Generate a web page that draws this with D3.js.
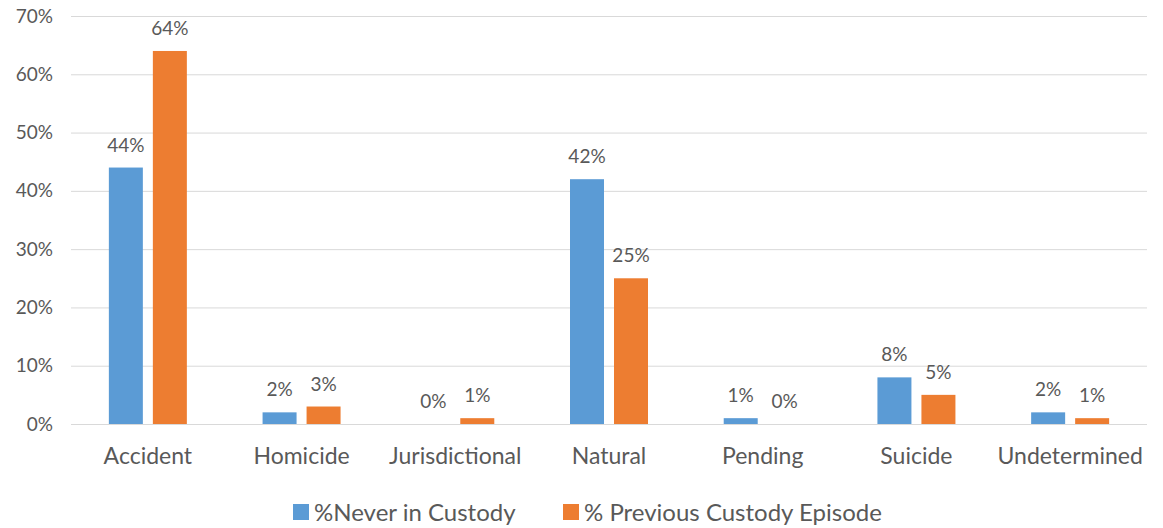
<!DOCTYPE html>
<html>
<head>
<meta charset="utf-8">
<script src="https://cdn.jsdelivr.net/npm/d3@7"></script>
<style>
  html, body { margin: 0; padding: 0; background: #fff; }
  svg { display: block; font-family: Lato, "Open Sans", sans-serif; }
</style>
</head>
<body>
<svg id="chart" width="1163" height="528"></svg>
<script>
const categories = ["Accident", "Homicide", "Jurisdictional", "Natural", "Pending", "Suicide", "Undetermined"];
const seriesNames = ["%Never in Custody", "% Previous Custody Episode"];
const neverInCustody = [44, 2, 0, 42, 1, 8, 2];
const previousCustody = [64, 3, 1, 25, 0, 5, 1];
const yTicks = [0, 10, 20, 30, 40, 50, 60, 70];
const colors = ["#5b9bd5", "#ed7d31"];

(function () {
  const series = [neverInCustody, previousCustody];
  const svg = d3.select("#chart");
  const plotLeft = 71, plotRight = 1147, plotTop = 16, plotBottom = 424;
  const textColor = "#595959";
  const font = "Lato, 'Open Sans', sans-serif";

  const x = d3.scaleBand().domain(categories).range([plotLeft, plotRight]).padding(0);
  const y = d3.scaleLinear().domain([0, 70]).range([plotBottom, plotTop]);
  const barW = 34, gap = 10;
  const inner = d3.scaleBand().domain(d3.range(series.length))
    .range([-(barW + gap / 2), barW + gap / 2]).paddingInner(gap / (barW + gap)).paddingOuter(0);

  // horizontal gridlines
  svg.append("g").selectAll("line").data(yTicks).join("line")
    .attr("x1", plotLeft).attr("x2", plotRight)
    .attr("y1", d => y(d) + 0.5).attr("y2", d => y(d) + 0.5)
    .attr("stroke", "#d9d9d9").attr("stroke-width", 1);

  // y axis tick labels
  const yAxis = d3.axisLeft(y).tickValues(yTicks).tickFormat(d => d + "%").tickSize(0).tickPadding(0);
  const gy = svg.append("g").attr("transform", "translate(53,0)").call(yAxis);
  gy.select(".domain").remove();
  gy.selectAll("text").attr("fill", textColor).style("font-size", "19px").style("font-family", font);

  // bars and value labels
  series.forEach((vals, si) => {
    const g = svg.append("g");
    g.selectAll("rect").data(vals).join("rect")
      .attr("x", (d, i) => x(categories[i]) + x.bandwidth() / 2 + inner(si))
      .attr("width", inner.bandwidth())
      .attr("y", d => y(d))
      .attr("height", d => plotBottom - y(d))
      .attr("fill", colors[si]);
    g.selectAll("text").data(vals).join("text")
      .attr("x", (d, i) => x(categories[i]) + x.bandwidth() / 2 + inner(si) + inner.bandwidth() / 2)
      .attr("y", d => y(d) - 16)
      .attr("text-anchor", "middle")
      .attr("fill", textColor)
      .style("font-size", "19px")
      .text(d => d + "%");
  });

  // category labels
  const xAxis = d3.axisBottom(x).tickSize(0).tickPadding(0);
  const gx = svg.append("g").attr("transform", `translate(0,${plotBottom})`).call(xAxis);
  gx.select(".domain").remove();
  gx.selectAll("text").attr("dy", null).attr("y", 40)
    .attr("fill", textColor).style("font-size", "23px").style("font-family", font);

  // legend
  const legendX = [293, 563];
  const legend = svg.append("g").selectAll("g").data(seriesNames).join("g")
    .attr("transform", (d, i) => `translate(${legendX[i]},504)`);
  legend.append("rect").attr("width", 16).attr("height", 16).attr("fill", (d, i) => colors[i]);
  legend.append("text").attr("x", 21).attr("y", 17)
    .attr("fill", textColor).style("font-size", "24px").text(d => d);
})();
</script>
</body>
</html>
